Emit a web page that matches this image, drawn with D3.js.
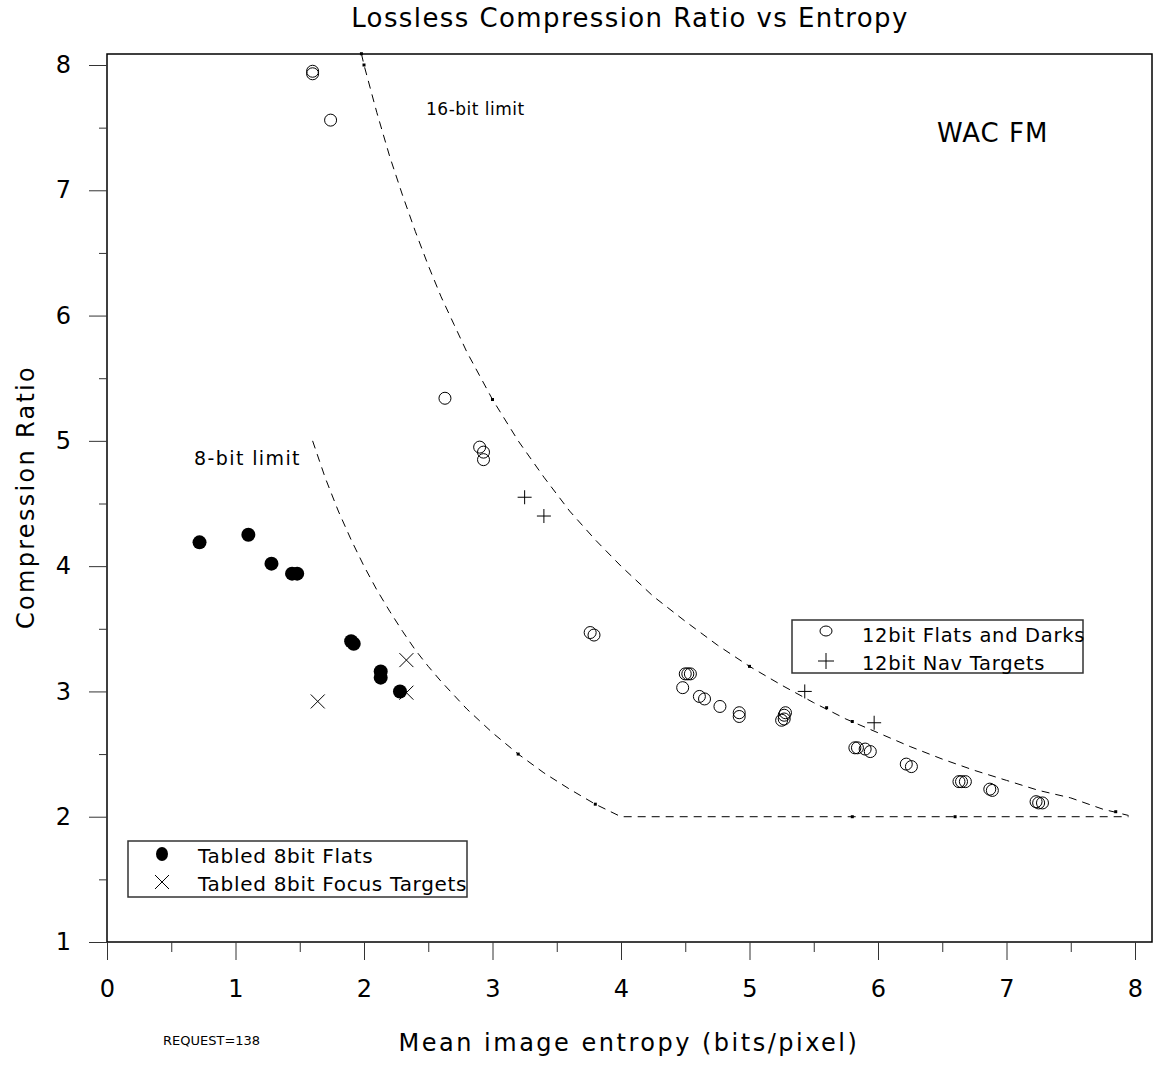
<!DOCTYPE html>
<html>
<head>
<meta charset="utf-8">
<script src="https://cdn.jsdelivr.net/npm/d3@7"></script>
<style>
    body { margin: 0; background: #fff; }
    text { font-family: "DejaVu Sans", Verdana, sans-serif; fill: #000; }
</style>
</head>
<body>
<div id="chart-container"></div>
<script>
// tick labels
const X_TICKS = [0, 1, 2, 3, 4, 5, 6, 7, 8];
const Y_TICKS = [1, 2, 3, 4, 5, 6, 7, 8];

// tabled 8bit flats [entropy, ratio]
const FLATS_8BIT = [
    [0.72, 4.19], [1.10, 4.25], [1.28, 4.02], [1.44, 3.94], [1.48, 3.94],
    [1.90, 3.40], [1.92, 3.38], [2.13, 3.11], [2.13, 3.16], [2.28, 3.00]
];

// tabled 8bit focus targets
const FOCUS_8BIT = [[1.64, 2.92], [2.33, 3.25], [2.33, 2.99]];

// 12bit flats and darks
const FLATS_12BIT = [
    [1.60, 7.95], [1.60, 7.93], [1.74, 7.56], [2.63, 5.34],
    [2.90, 4.95], [2.93, 4.91], [2.93, 4.85], [3.76, 3.47], [3.79, 3.45],
    [4.48, 3.03], [4.50, 3.14], [4.52, 3.14], [4.54, 3.14],
    [4.61, 2.96], [4.65, 2.94], [4.77, 2.88], [4.92, 2.80], [4.92, 2.83],
    [5.25, 2.77], [5.27, 2.78], [5.28, 2.83], [5.27, 2.81],
    [5.82, 2.55], [5.84, 2.55], [5.90, 2.54], [5.94, 2.52],
    [6.22, 2.42], [6.26, 2.40], [6.63, 2.28], [6.65, 2.28], [6.68, 2.28],
    [6.87, 2.22], [6.89, 2.21], [7.23, 2.12], [7.25, 2.11], [7.28, 2.11]
];

// 12bit nav targets
const NAV_12BIT = [[3.25, 4.55], [3.40, 4.40], [5.43, 3.00], [5.97, 2.75]];

// 16-bit limit curve
const LIMIT_16 = [
    [1.98, 8.09], [2.0, 8.0], [2.1, 7.62], [2.2, 7.27], [2.3, 6.96], [2.4, 6.67],
    [2.5, 6.40], [2.6, 6.15], [2.7, 5.93], [2.8, 5.71], [2.9, 5.52], [3.0, 5.33],
    [3.2, 5.00], [3.4, 4.71], [3.6, 4.44], [3.8, 4.21], [4.0, 4.00], [4.25, 3.76],
    [4.5, 3.56], [4.75, 3.37], [5.0, 3.20], [5.25, 3.05], [5.5, 2.91], [5.75, 2.78],
    [6.0, 2.67], [6.25, 2.56], [6.5, 2.46], [6.75, 2.37], [7.0, 2.29], [7.25, 2.21],
    [7.5, 2.15], [7.75, 2.06], [7.95, 2.01]
];

// 8-bit limit curve
const LIMIT_8 = [
    [1.6, 5.00], [1.7, 4.70], [1.8, 4.44], [1.9, 4.21], [2.0, 4.00], [2.1, 3.81],
    [2.2, 3.64], [2.3, 3.48], [2.4, 3.33], [2.5, 3.20], [2.6, 3.08], [2.8, 2.86],
    [3.0, 2.67], [3.2, 2.50], [3.4, 2.35], [3.6, 2.22], [3.8, 2.10], [4.0, 2.00],
    [5.8, 2.00], [6.6, 2.00], [7.95, 2.00]
];

// small vertex dots seen on the limit curves
const LIMIT_DOTS = [
    [1.98, 8.09], [2.0, 8.0], [3.0, 5.33], [5.0, 3.20], [5.6, 2.87], [5.8, 2.76],
    [7.85, 2.04], [3.2, 2.50], [3.8, 2.10], [5.8, 2.00], [6.6, 2.00]
];

function drawChart() {
    const width = 1157;
    const height = 1065;

    // plot frame
    const frame = { left: 107, top: 54, right: 1152, bottom: 942 };

    const svg = d3.select("#chart-container")
        .append("svg")
        .attr("width", width)
        .attr("height", height);

    // scales
    const x = d3.scaleLinear().domain([0, 8]).range([107, 1135]);
    const y = d3.scaleLinear().domain([1, 8]).range([942, 65]);

    // frame box
    svg.append("rect")
        .attr("x", frame.left)
        .attr("y", frame.top)
        .attr("width", frame.right - frame.left)
        .attr("height", frame.bottom - frame.top)
        .attr("fill", "none")
        .attr("stroke", "#000")
        .attr("stroke-width", 1.5);

    // bottom axis, major + minor ticks
    svg.append("g")
        .attr("transform", `translate(0,${frame.bottom})`)
        .call(d3.axisBottom(x).tickValues(X_TICKS).tickSize(18).tickPadding(20).tickFormat(d3.format("d")));
    svg.append("g")
        .attr("transform", `translate(0,${frame.bottom})`)
        .call(d3.axisBottom(x).tickValues(X_TICKS.slice(0, -1).map(d => d + 0.5)).tickSize(10).tickFormat(""));

    // left axis, major + minor ticks
    svg.append("g")
        .attr("transform", `translate(${frame.left},0)`)
        .call(d3.axisLeft(y).tickValues(Y_TICKS).tickSize(18).tickPadding(18).tickFormat(d3.format("d")));
    svg.append("g")
        .attr("transform", `translate(${frame.left},0)`)
        .call(d3.axisLeft(y).tickValues(Y_TICKS.slice(0, -1).map(d => d + 0.5)).tickSize(8).tickFormat(""));

    svg.selectAll(".domain").remove();
    svg.selectAll(".tick line").attr("stroke", "#333");
    svg.selectAll(".tick text")
        .style("font-family", "'DejaVu Sans', sans-serif")
        .style("font-size", "24px");

    // limit curves
    const line = d3.line().x(d => x(d[0])).y(d => y(d[1]));
    [LIMIT_16, LIMIT_8].forEach(data => {
        svg.append("path")
            .datum(data)
            .attr("d", line)
            .attr("fill", "none")
            .attr("stroke", "#000")
            .attr("stroke-width", 1)
            .attr("stroke-dasharray", "8,6");
    });
    svg.append("g").selectAll("rect")
        .data(LIMIT_DOTS)
        .enter()
        .append("rect")
        .attr("x", d => x(d[0]) - 1.5)
        .attr("y", d => y(d[1]) - 1.5)
        .attr("width", 3)
        .attr("height", 3)
        .attr("fill", "#000");

    // open circles
    svg.append("g").selectAll("circle")
        .data(FLATS_12BIT)
        .enter()
        .append("circle")
        .attr("cx", d => x(d[0]))
        .attr("cy", d => y(d[1]))
        .attr("r", 6)
        .attr("fill", "none")
        .attr("stroke", "#000");

    // filled circles
    svg.append("g").selectAll("circle")
        .data(FLATS_8BIT)
        .enter()
        .append("circle")
        .attr("cx", d => x(d[0]))
        .attr("cy", d => y(d[1]))
        .attr("r", 7)
        .attr("fill", "#000");

    // crosses
    const s = 7;
    svg.append("g").selectAll("path")
        .data(FOCUS_8BIT)
        .enter()
        .append("path")
        .attr("d", d => {
            const cx = x(d[0]), cy = y(d[1]);
            return `M${cx - s},${cy - s}L${cx + s},${cy + s}M${cx - s},${cy + s}L${cx + s},${cy - s}`;
        })
        .attr("stroke", "#000")
        .attr("stroke-width", 1);

    // plus signs
    svg.append("g").selectAll("path")
        .data(NAV_12BIT)
        .enter()
        .append("path")
        .attr("d", d => {
            const cx = x(d[0]), cy = y(d[1]);
            return `M${cx - s},${cy}L${cx + s},${cy}M${cx},${cy - s}L${cx},${cy + s}`;
        })
        .attr("stroke", "#000")
        .attr("stroke-width", 1);

    // legend helper
    function legend(box, items) {
        const g = svg.append("g");
        g.append("rect")
            .attr("x", box[0]).attr("y", box[1])
            .attr("width", box[2]).attr("height", box[3])
            .attr("fill", "#fff")
            .attr("stroke", "#333")
            .attr("stroke-width", 1.5);
        items.forEach((it, i) => {
            const cy = box[1] + 13 + i * 28;
            const cx = box[0] + 34;
            if (it.type === "filled") {
                g.append("ellipse").attr("cx", cx).attr("cy", cy).attr("rx", 6).attr("ry", 7).attr("fill", "#000");
            } else if (it.type === "open") {
                g.append("ellipse").attr("cx", cx).attr("cy", cy - 2).attr("rx", 6).attr("ry", 5).attr("fill", "none").attr("stroke", "#000");
            } else if (it.type === "cross") {
                g.append("path").attr("d", `M${cx - 7},${cy - 7}L${cx + 7},${cy + 7}M${cx - 7},${cy + 7}L${cx + 7},${cy - 7}`).attr("stroke", "#000");
            } else {
                g.append("path").attr("d", `M${cx - 8},${cy}L${cx + 8},${cy}M${cx},${cy - 8}L${cx},${cy + 8}`).attr("stroke", "#000");
            }
            g.append("text")
                .attr("x", box[0] + 70)
                .attr("y", cy + 9)
                .style("font-size", it.size)
                .style("letter-spacing", "0.7px")
                .text(it.label);
        });
    }

    legend([128, 841, 339, 56], [
        { type: "filled", label: "Tabled 8bit Flats", size: "20px" },
        { type: "cross", label: "Tabled 8bit Focus Targets", size: "20px" }
    ]);
    legend([792, 620, 291, 53], [
        { type: "open", label: "12bit Flats and Darks", size: "19.5px" },
        { type: "plus", label: "12bit Nav Targets", size: "19.5px" }
    ]);

    // title and annotations
    svg.append("text")
        .attr("x", 630).attr("y", 27)
        .attr("text-anchor", "middle")
        .style("font-size", "26px")
        .style("letter-spacing", "1.4px")
        .text("Lossless Compression Ratio vs Entropy");

    svg.append("text")
        .attr("x", 629).attr("y", 1051)
        .attr("text-anchor", "middle")
        .style("font-size", "24px")
        .style("letter-spacing", "2.5px")
        .text("Mean image entropy (bits/pixel)");

    svg.append("text")
        .attr("transform", "translate(34,497) rotate(-90)")
        .attr("text-anchor", "middle")
        .style("font-size", "24px")
        .style("letter-spacing", "2.3px")
        .text("Compression Ratio");

    svg.append("text").attr("x", 426).attr("y", 115).style("font-size", "17px").style("letter-spacing", "0.5px").text("16-bit limit");
    svg.append("text").attr("x", 194).attr("y", 465).style("font-size", "19px").style("letter-spacing", "1.4px").text("8-bit limit");
    svg.append("text").attr("x", 937).attr("y", 142).style("font-size", "26px").style("letter-spacing", "1px").text("WAC FM");
    svg.append("text").attr("x", 163).attr("y", 1045).style("font-size", "13px").text("REQUEST=138");
}

window.onload = () => {
    drawChart();
};
</script>
</body>
</html>
